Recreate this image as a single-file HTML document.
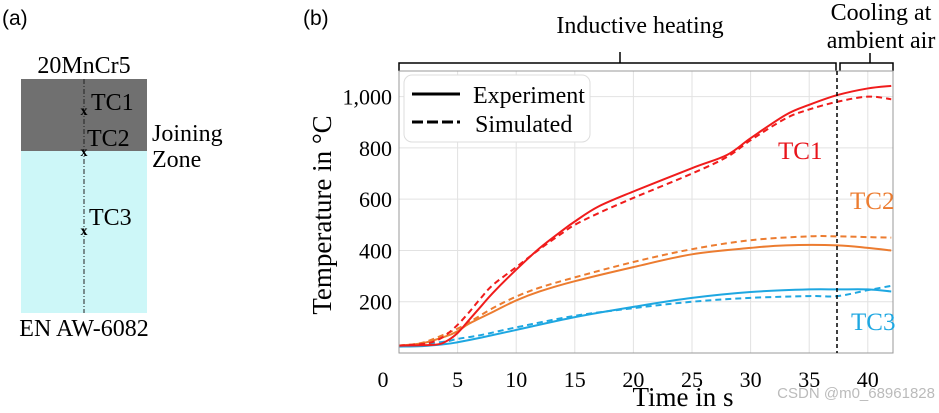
<!DOCTYPE html>
<html><head><meta charset="utf-8"><style>
body{margin:0;background:#fff;width:939px;height:408px;overflow:hidden}
svg text{font-family:"Liberation Serif",serif}
</style></head><body>
<svg id="fig" width="939" height="408" xmlns="http://www.w3.org/2000/svg">
 <g>
  <text x="2" y="25" style="font-family:'Liberation Sans',sans-serif" font-size="21">(a)</text>
  <text x="84" y="73" font-size="24" text-anchor="middle">20MnCr5</text>
  <rect x="21" y="79" width="126" height="72" fill="#707070"/>
  <rect x="21" y="151" width="126" height="162" fill="#cdf7f8"/>
  <line x1="84" y1="79" x2="84" y2="313" stroke="#222" stroke-width="1" stroke-dasharray="5,2,1,2"/>
  <text x="84" y="115" font-size="14" text-anchor="middle" font-weight="bold">x</text>
  <text x="84" y="156" font-size="14" text-anchor="middle" font-weight="bold">x</text>
  <text x="84" y="235" font-size="14" text-anchor="middle" font-weight="bold">x</text>
  <text x="91" y="110" font-size="24">TC1</text>
  <text x="87" y="146" font-size="24">TC2</text>
  <text x="89" y="225" font-size="24">TC3</text>
  <text x="152" y="141" font-size="24">Joining</text>
  <text x="152" y="167" font-size="24">Zone</text>
  <text x="84" y="336" font-size="24" text-anchor="middle">EN AW-6082</text>
 </g>
 <g id="chart">
  <text x="303" y="25" style="font-family:'Liberation Sans',sans-serif" font-size="21">(b)</text>
  <text x="640" y="33" font-size="24" text-anchor="middle">Inductive heating</text>
  <text x="881" y="20" font-size="24" text-anchor="middle">Cooling at</text>
  <text x="881" y="48" font-size="24" text-anchor="middle">ambient air</text>
  <path d="M399,71 V63 H836 V71 M620,63 V52" fill="none" stroke="#000" stroke-width="1.5"/>
  <path d="M840,71 V63 H893 V71 M870,63 V53" fill="none" stroke="#000" stroke-width="1.5"/>
  <g id="grid"></g>
  <g id="series"></g>
  <rect x="399" y="71" width="494" height="282" fill="none" stroke="#999" stroke-width="1"/>
  <line x1="837" y1="71" x2="837" y2="353" stroke="#000" stroke-width="1.5" stroke-dasharray="4,3"/>
  <g>
   <rect x="404" y="75" width="186" height="67" rx="8" fill="#fff" stroke="#ddd"/>
   <line x1="412" y1="94" x2="460" y2="94" stroke="#000" stroke-width="3"/>
   <text x="473" y="103" font-size="24">Experiment</text>
   <line x1="412" y1="122" x2="460" y2="122" stroke="#000" stroke-width="3" stroke-dasharray="11,4"/>
   <text x="475" y="132" font-size="24">Simulated</text>
  </g>
  <text x="778" y="159" font-size="25" fill="#e8141b">TC1</text>
  <text x="850" y="209" font-size="25" fill="#ec7c30">TC2</text>
  <text x="851" y="330" font-size="25" fill="#1ea7e1">TC3</text>
  <text transform="translate(331,215) rotate(-90)" font-size="27" text-anchor="middle">Temperature in °C</text>
  <text x="683" y="406" font-size="27" text-anchor="middle">Time in s</text>
  <text x="935" y="398" font-size="15" fill="#bbb" text-anchor="end" style="font-family:'Liberation Sans',sans-serif">CSDN @m0_68961828</text>
 </g>
</svg>
<script>
const xTicks=[0,5,10,15,20,25,30,35,40];
const yTicks=[200,400,600,800,1000];
const yTickLabels=["200","400","600","800","1,000"];
const tc1ExpT=[0,3,4,5,6,7,8,10,12,14,15,17,20,25,28,30,33,35,37.4,40,42];
const tc1ExpV=[29,32,45,78,130,182,234,325,409,480,513,571,630,721,773,838,929,968,1006,1032,1042];
const tc1SimT=[0,2,3,4,5,6,7,8,10,12,14,15,17,20,25,28,30,33,35,37.4,40,42];
const tc1SimV=[29,35,45,70,110,160,215,265,335,405,470,500,545,605,700,765,830,915,950,980,1000,990];
const tc2ExpT=[0,2,4,5,6,8,10,12,15,20,25,30,33,37.4,40,42];
const tc2ExpV=[29,38,65,85,115,160,205,240,280,335,385,410,420,420,410,400];
const tc2SimT=[0,2,4,5,6,8,10,12,15,20,25,30,35,37.4,40,42];
const tc2SimV=[29,40,75,95,120,175,220,255,295,355,405,440,455,455,452,450];
const tc3ExpT=[0,2,4,5,7,10,15,20,25,30,35,37.4,40,42];
const tc3ExpV=[25,27,35,42,60,90,140,180,215,238,248,248,248,240];
const tc3SimT=[0,2,4,5,7,10,15,20,25,30,35,37.4,40,42];
const tc3SimV=[28,35,45,55,70,100,145,175,200,215,222,222,245,262];
const NS="http://www.w3.org/2000/svg";
const X0=399,PX=11.72,Y0=353,PY=282/1100;
function xs(t){return X0+t*PX;}
function ys(v){return Y0-v*PY;}
const grid=document.getElementById('grid');
xTicks.forEach((t,i)=>{
 const l=document.createElementNS(NS,'line');
 l.setAttribute('x1',xs(t));l.setAttribute('x2',xs(t));l.setAttribute('y1',71);l.setAttribute('y2',353);
 l.setAttribute('stroke','#e2e2e2');
 
 
 grid.appendChild(l);
 const tx=document.createElementNS(NS,'text');
 tx.setAttribute('x',xs(t)-(t===0?16:0));tx.setAttribute('y',387);tx.setAttribute('font-size','22');tx.setAttribute('text-anchor','middle');
 tx.textContent=String(t);
 
 
 grid.appendChild(tx);
});
yTicks.forEach((v,i)=>{
 const l=document.createElementNS(NS,'line');
 l.setAttribute('x1',399);l.setAttribute('x2',893);l.setAttribute('y1',ys(v));l.setAttribute('y2',ys(v));
 l.setAttribute('stroke','#e2e2e2');
 
 
 grid.appendChild(l);
 const tx=document.createElementNS(NS,'text');
 tx.setAttribute('x',392);tx.setAttribute('y',ys(v)+8);tx.setAttribute('font-size','22');tx.setAttribute('text-anchor','end');
 tx.textContent=yTickLabels[i];
 
 
 grid.appendChild(tx);
});
function smooth(T,V){
 const p=T.map((t,i)=>[xs(t),ys(V[i])]);
 let d='M'+p[0][0]+','+p[0][1];
 for(let i=0;i<p.length-1;i++){
  const a=p[i-1]||p[i],b=p[i],c=p[i+1],e=p[i+2]||c;
  const c1=[b[0]+(c[0]-a[0])/6,b[1]+(c[1]-a[1])/6],c2=[c[0]-(e[0]-b[0])/6,c[1]-(e[1]-b[1])/6];
  d+=' C'+c1+' '+c2+' '+c;
 }
 return d;
}
const ser=document.getElementById('series');
function addLine(T,V,color,dash,name){
 const p=document.createElementNS(NS,'path');
 p.setAttribute('d',smooth(T,V));p.setAttribute('fill','none');p.setAttribute('stroke',color);p.setAttribute('stroke-width','2');
 if(dash)p.setAttribute('stroke-dasharray','6,4');
 
 
 ser.appendChild(p);
}
addLine(tc3SimT,tc3SimV,'#1ea7e1',true,'tc3-simulated-line');
addLine(tc3ExpT,tc3ExpV,'#1ea7e1',false,'tc3-experiment-line');
addLine(tc2SimT,tc2SimV,'#ec7c30',true,'tc2-simulated-line');
addLine(tc2ExpT,tc2ExpV,'#ec7c30',false,'tc2-experiment-line');
addLine(tc1SimT,tc1SimV,'#f01c1c',true,'tc1-simulated-line');
addLine(tc1ExpT,tc1ExpV,'#f01c1c',false,'tc1-experiment-line');
</script>
</body></html>
